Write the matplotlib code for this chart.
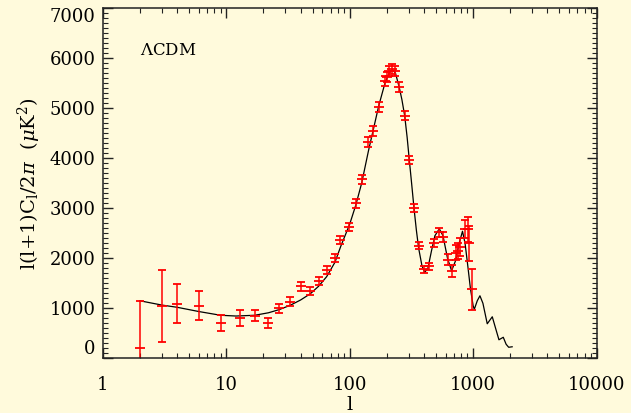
import numpy as np
import matplotlib.pyplot as plt
from matplotlib.ticker import MultipleLocator

# theory curve
model_l = [2, 3, 4, 6, 9, 12, 17, 22, 27, 33, 40, 48, 56, 65, 76, 85,
           100, 112, 125, 142, 155, 172, 193, 210, 222, 235, 252, 265,
           279, 292, 304, 318, 332, 347, 362, 385, 405, 430, 460, 490,
           532, 570, 620, 669, 720, 770, 820, 860, 900, 950, 1000, 1022,
           1080, 1135, 1200, 1301, 1429, 1520, 1618, 1754, 1850, 1940,
           2070]
model_cl = [1150, 1065, 1020, 935, 860, 845, 860, 910, 975, 1060, 1165,
            1290, 1440, 1630, 1920, 2250, 2680, 3060, 3500, 4150, 4560,
            5050, 5500, 5720, 5770, 5700, 5420, 5170, 4850, 4420, 3970,
            3480, 3000, 2560, 2200, 1850, 1720, 1800, 2150, 2450, 2590,
            2450, 2000, 1750, 1950, 2300, 2540, 2300, 1900, 1400, 1050,
            980, 1150, 1250, 1100, 690, 830, 600, 370, 420, 280, 220, 230]

# measured band powers
data_l = [2, 3, 4, 6, 9, 13, 17, 22, 27, 33, 40, 48, 56, 65, 76, 84,
          99, 112, 125, 142, 155, 172, 193, 200, 207, 222, 233, 252,
          279, 304, 332, 362, 402, 441, 482, 532, 573, 620, 680, 720,
          755, 780, 860, 913, 930, 972]
data_cl = [210, 1040, 1095, 1055, 710, 810, 850, 700, 1000, 1130, 1440,
           1350, 1545, 1765, 2010, 2360, 2620, 3100, 3580, 4330, 4540,
           5020, 5540, 5630, 5740, 5780, 5750, 5420, 4850, 3960, 3010,
           2250, 1780, 1840, 2310, 2520, 2420, 1970, 1750, 2110, 2150,
           2230, 2580, 2580, 2300, 1380]
data_err = [940, 720, 390, 295, 155, 160, 110, 100, 95, 90, 85, 80, 75,
            75, 75, 80, 80, 85, 85, 95, 100, 100, 100, 100, 100, 100,
            100, 100, 90, 80, 80, 70, 70, 75, 80, 90, 100, 110, 120, 150,
            160, 180, 180, 250, 350, 410]

bg = '#fffadc'
plt.rcParams['font.family'] = 'DejaVu Serif'
plt.rcParams['mathtext.fontset'] = 'dejavuserif'

fig = plt.figure(figsize=(6.31, 4.13), dpi=100, facecolor=bg)
ax = fig.add_axes([0.1628, 0.1325, 0.7827, 0.8475], facecolor=bg)

ax.plot(model_l, model_cl, color='black', lw=0.9)
ax.errorbar(data_l, data_cl, yerr=data_err, fmt='_', color='red',
            ms=7.5, mew=1.3, elinewidth=1.1, capsize=3, capthick=1.1)

ax.set_xscale('log')
ax.set_xlim(1, 10000)
ax.set_ylim(0, 7000)
ax.set_yticks(range(0, 7001, 1000))
ax.yaxis.set_minor_locator(MultipleLocator(100))

ax.tick_params(which='both', direction='in', top=True, right=True,
               color='#222222', labelsize=13)
ax.tick_params(which='major', length=7, width=1)
ax.tick_params(which='minor', length=3.5, width=0.8)
ax.tick_params(axis='x', pad=13)
ax.tick_params(axis='y', pad=5)
for s in ax.spines.values():
    s.set_linewidth(1.1)
    s.set_color('#222222')

ax.set_xticks([1, 10, 100, 1000, 10000])
ax.set_xticklabels(['1', '10', '100', '1000', '10000'])

# keep end labels inside the axis like the original
yt = ax.yaxis.get_major_ticks()
yt[0].label1.set_va('bottom')
yt[-1].label1.set_va('top')

ax.set_xlabel('l', fontsize=14, labelpad=1)
ax.set_ylabel(r'l(l+1)C$_\mathregular{l}$/2$\pi$  ($\mu$K$^2$)', fontsize=14, labelpad=5)
ax.text(0.075, 0.88, r'$\Lambda$CDM', transform=ax.transAxes, fontsize=12,
        va='center')

fig.savefig('out.png', dpi=100, facecolor=bg)
